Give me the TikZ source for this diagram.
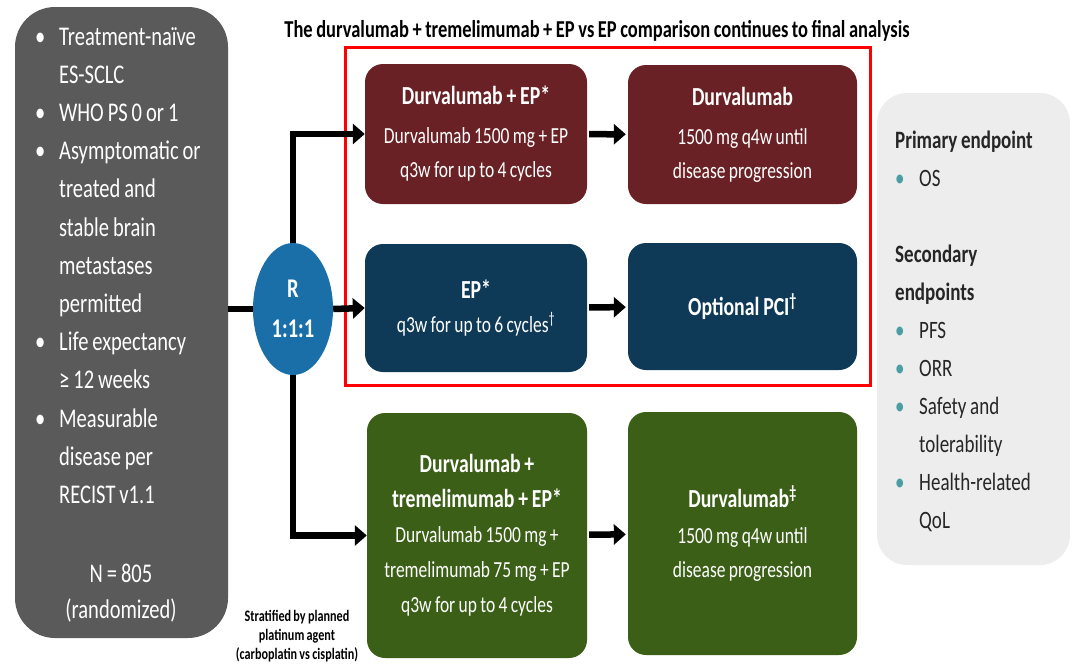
\documentclass[tikz,border=0pt]{standalone}
\usepackage{fontspec}
\setmainfont{Carlito}[FakeStretch=0.76, WordSpace=0.85]
\usetikzlibrary{arrows.meta,shapes.geometric}

\definecolor{eligrey}{HTML}{5A5A5A}
\definecolor{armred}{HTML}{6A2125}
\definecolor{armblue}{HTML}{0E3A58}
\definecolor{armgreen}{HTML}{3B5F16}
\definecolor{randblue}{HTML}{1B6FA8}
\definecolor{endgrey}{HTML}{EDEDED}
\definecolor{endtext}{HTML}{262626}
\definecolor{endbullet}{HTML}{4A9FA5}

\newcommand{\elbul}{\makebox[24pt][l]{\textbullet}}
\newcommand{\enbul}{\makebox[24pt][l]{\color{endbullet}\textbullet}}
\newcommand{\skipbul}{\hspace*{24pt}}
\newcommand{\armhd}{\bfseries\fontsize{26}{36}\selectfont}

\begin{document}
\begin{tikzpicture}[x=1pt,y=-1pt,
    arm/.style={rounded corners=18pt, text=white, align=center, inner sep=0pt,
      font=\fontsize{23}{34}\selectfont},
    link/.style={line width=6.5pt, -{Triangle[length=12pt,width=20pt]}}]

    \useasboundingbox (0,0) rectangle (1076,667);

    % eligibility
    \node[fill=eligrey, rounded corners=40pt, minimum width=213pt, minimum height=631pt] (elig) at (121.5,322.5) {};
    \node[anchor=north west, text width=195pt, align=flush left, inner sep=0pt, text=white,
      font=\fontsize{27}{38.2}\selectfont] (eligtext) at (35,27)
      {\elbul Treatment-naïve\\ \skipbul ES-SCLC\\ \elbul WHO PS 0 or 1\\ \elbul Asymptomatic or\\
       \skipbul treated and\\ \skipbul stable brain\\ \skipbul metastases\\ \skipbul permitted\\
       \elbul Life expectancy\\ \skipbul ≥ 12 weeks\\ \elbul Measurable\\ \skipbul disease per\\
       \skipbul RECIST v1.1};
    \node[align=center, text=white, font=\fontsize{27}{36}\selectfont] (count) at (121,593) {N = 805\\(randomized)};

    \node[font=\bfseries\fontsize{24.3}{28}\selectfont] (title) at (597,31)
      {The durvalumab + tremelimumab + EP vs EP comparison continues to final analysis};

    % randomisation
    \node[ellipse, fill=randblue, minimum width=80pt, minimum height=132pt, inner sep=0pt, text=white,
      align=center, font=\bfseries\fontsize{27}{40}\selectfont] (rnd) at (293,309) {R\\1:1:1};

    % arms
    \node[arm, fill=armred, minimum width=222pt, minimum height=140pt] (durvep) at (476,134)
      {{\armhd Durvalumab + EP*}\\[5pt] Durvalumab 1500 mg + EP\\ q3w for up to 4 cycles};
    \node[arm, fill=armred, minimum width=229pt, minimum height=139pt] (durvmaint) at (742.5,134.5)
      {{\armhd Durvalumab}\\[5pt] 1500 mg q4w until\\ disease progression};
    \node[arm, fill=armblue, minimum width=222pt, minimum height=128pt] (ep) at (476,308)
      {{\armhd EP*}\\ q3w for up to 6 cycles\textsuperscript{†}};
    \node[arm, fill=armblue, minimum width=229pt, minimum height=127pt] (pci) at (742.5,306.5)
      {{\armhd Optional PCI\textsuperscript{†}}};
    \node[arm, fill=armgreen, minimum width=220pt, minimum height=245pt, font=\fontsize{23}{35}\selectfont] (tremep) at (477,535.5)
      {{\armhd Durvalumab +}\\ {\armhd tremelimumab + EP*}\\ Durvalumab 1500 mg +\\
       tremelimumab 75 mg + EP\\ q3w for up to 4 cycles};
    \node[arm, fill=armgreen, minimum width=229pt, minimum height=243pt] (tremmaint) at (742.5,533.5)
      {{\armhd Durvalumab\textsuperscript{‡}}\\[2pt] 1500 mg q4w until\\ disease progression};

    \draw[red, line width=3pt] (345,47) rectangle (870,385);

    \node[align=center, font=\bfseries\fontsize{16}{19}\selectfont] (strat) at (297,636)
      {Stratified by planned\\platinum agent\\(carboplatin vs cisplatin)};

    % endpoints
    \node[fill=endgrey, rounded corners=30pt, minimum width=193pt, minimum height=472pt] (endp) at (973.5,329) {};
    \node[anchor=north west, text width=175pt, align=flush left, inner sep=0pt, text=endtext,
      font=\fontsize{25}{38}\selectfont] (endtext) at (895,131)
      {{\bfseries Primary endpoint}\\ \enbul OS\\[38pt] {\bfseries Secondary}\\ {\bfseries endpoints}\\
       \enbul PFS\\ \enbul ORR\\ \enbul Safety and\\ \hspace*{24pt}tolerability\\ \enbul Health-related\\ \hspace*{24pt}QoL};

    % connectors
    \draw[line width=6.5pt] (rnd.west -| elig.east) -- (rnd.west);
    \draw[link] (rnd.north) |- (durvep.west);
    \draw[link] (rnd.east) -- (ep.west);
    \draw[link] (rnd.south) |- (tremep.west);
    \draw[link, shorten <=2pt, shorten >=2pt] (durvep) -- (durvmaint);
    \draw[link, shorten <=2pt, shorten >=2pt] (ep) -- (pci);
    \draw[link, shorten <=2pt, shorten >=2pt] (tremep) -- (tremmaint);

\end{tikzpicture}
\end{document}
